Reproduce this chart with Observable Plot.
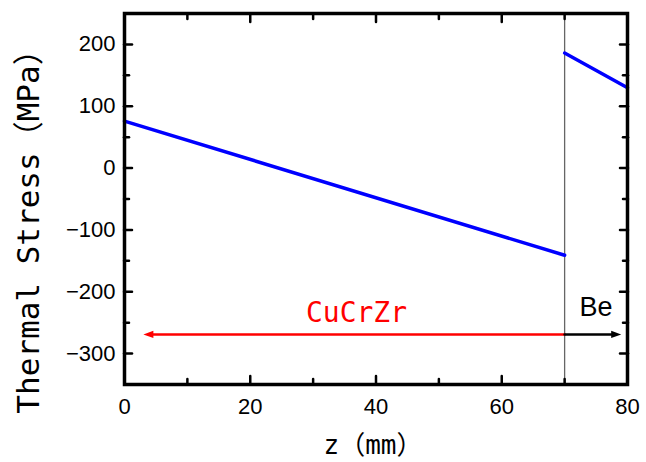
<!DOCTYPE html>
<html><head><meta charset="utf-8">
<script src="https://cdn.jsdelivr.net/npm/d3@7"></script>
<script src="https://cdn.jsdelivr.net/npm/@observablehq/plot@0.6"></script>
<style>
html,body{margin:0;padding:0;background:#fff;}
svg{display:block;}
</style></head><body><div id="chart"></div>
<script>
// Data
const segNames = ["CuCrZr", "Be"];
const zCuCrZr = [0, 70];
const stressCuCrZr = [76, -141];
const zBe = [70, 80];
const stressBe = [186, 130];
const interfaceZ = [70];
const xMajor = [0, 20, 40, 60, 80];
const xMinor = [10, 30, 50, 70];
const yMajor = [-300, -200, -100, 0, 100, 200];
const yMinor = [-250, -150, -50, 50, 150];
const arrowStress = -269;
const arrowFrom = [70, 70];
const arrowTo = [3, 79];
const arrowColors = ["red", "black"];
const arrowDirs = [-90, 90];
const labelTexts = ["CuCrZr", "Be"];
const labelZ = [36.9, 75];
const labelStress = [-234, -225.5];
const labelColors = ["red", "black"];

const lineData = [
  ...zCuCrZr.map((z, i) => ({seg: segNames[0], z, s: stressCuCrZr[i]})),
  ...zBe.map((z, i) => ({seg: segNames[1], z, s: stressBe[i]}))
];
const arrows = arrowFrom.map((f, i) => ({x1: f, x2: arrowTo[i], y: arrowStress, c: arrowColors[i], r: arrowDirs[i]}));
const labels = labelTexts.map((t, i) => ({t, z: labelZ[i], s: labelStress[i], c: labelColors[i]}));

const mono = "DejaVu Sans Mono, Noto Sans CJK JP, monospace";
const tickStyle = {strokeWidth: 2.5, strokeLinecap: "round", label: null};

const headShape = {
  draw(context, l) {
    context.moveTo(0, -l);
    context.lineTo(-3.6, 0);
    context.lineTo(3.6, 0);
    context.closePath();
  }
};

const chart = Plot.plot({
  width: 646, height: 462,
  marginTop: 13, marginRight: 19, marginBottom: 78, marginLeft: 124,
  style: {fontFamily: "Liberation Sans, Arial, sans-serif", fontSize: "22px", background: "#fff", color: "black"},
  x: {domain: [0, 80]},
  y: {domain: [-350, 250]},
  marks: [
    Plot.ruleX(interfaceZ, {stroke: "#666", strokeWidth: 1.3}),
    Plot.line(lineData, {x: "z", y: "s", z: "seg", stroke: "#0000ff", strokeWidth: 3.5}),
    Plot.arrow(arrows, {x1: "x1", x2: "x2", y1: "y", y2: "y", stroke: "c", strokeWidth: 2.5, headLength: 0, insetEnd: 6}),
    Plot.vector(arrows, {x: "x2", y: "y", rotate: "r", length: 10, anchor: "end", shape: headShape, fill: "c", stroke: null}),
    Plot.text(labels.slice(0, 1), {x: "z", y: "s", text: "t", fill: "c", fontFamily: mono, fontSize: 28, ariaLabel: "lab-cu"}),
    Plot.text(labels.slice(1), {x: "z", y: "s", text: "t", fill: "c", fontFamily: "Liberation Sans, Arial, sans-serif", fontSize: 27, ariaLabel: "lab-be"}),
    Plot.axisX({ticks: xMajor, tickSize: -8, tickPadding: 22, ...tickStyle}),
    Plot.axisX({ticks: xMinor, tickSize: -5, tickFormat: () => "", ...tickStyle}),
    Plot.axisX({anchor: "top", ticks: xMajor, tickSize: -8, tickFormat: () => "", ...tickStyle}),
    Plot.axisX({anchor: "top", ticks: xMinor, tickSize: -5, tickFormat: () => "", ...tickStyle}),
    Plot.axisY({ticks: yMajor, tickSize: -8, tickPadding: 17, ...tickStyle}),
    Plot.axisY({ticks: yMinor, tickSize: -5, tickFormat: () => "", ...tickStyle}),
    Plot.axisY({anchor: "right", ticks: yMajor, tickSize: -8, tickFormat: () => "", ...tickStyle}),
    Plot.axisY({anchor: "right", ticks: yMinor, tickSize: -5, tickFormat: () => "", ...tickStyle}),
    Plot.text(["Thermal Stress（MPa）"], {frameAnchor: "left", textAnchor: "middle", lineAnchor: "middle", rotate: -90, dx: -95, dy: 25, fontSize: 31, fontFamily: mono, ariaLabel: "ylab"}),
    Plot.text(["z（mm）"], {frameAnchor: "bottom", textAnchor: "middle", lineAnchor: "middle", dy: 61, dx: -3, fontSize: 26, fontFamily: mono, ariaLabel: "xlab"}),
    Plot.frame({stroke: "black", strokeWidth: 3.5})
  ]
});
const fit = (label, len) => d3.select(chart).selectAll(`g[aria-label="${label}"] text`)
  .attr("textLength", len).attr("lengthAdjust", "spacingAndGlyphs");
fit("lab-cu", 87);
fit("lab-be", 27);
fit("ylab", 388);
fit("xlab", 90);
document.getElementById("chart").appendChild(chart);
</script>
</body></html>
